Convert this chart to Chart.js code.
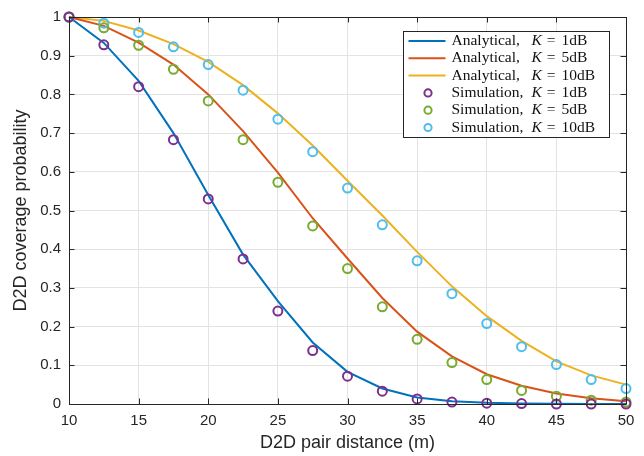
<!DOCTYPE html>
<html><head><meta charset="utf-8">
<script src="https://cdn.jsdelivr.net/npm/chart.js@4.4.1/dist/chart.umd.min.js"></script>
<style>html,body{margin:0;padding:0;background:#fff;}canvas{display:block;}</style>
</head><body>
<canvas id="c" width="644" height="456"></canvas>
<script>
// ---- data ----
const distances = [10, 12.5, 15, 17.5, 20, 22.5, 25, 27.5, 30, 32.5, 35, 37.5, 40, 42.5, 45, 47.5, 50];
const analyticalK1  = [1.0, 0.933, 0.835, 0.700, 0.540, 0.386, 0.266, 0.159, 0.083, 0.040, 0.017, 0.007, 0.003, 0.001, 0.0005, 0.0002, 0.0001];
const analyticalK5  = [1.0, 0.977, 0.934, 0.877, 0.800, 0.705, 0.598, 0.480, 0.376, 0.274, 0.187, 0.123, 0.077, 0.047, 0.027, 0.015, 0.007];
const analyticalK10 = [1.0, 0.990, 0.965, 0.930, 0.884, 0.824, 0.751, 0.668, 0.577, 0.487, 0.393, 0.304, 0.227, 0.163, 0.110, 0.074, 0.050];
const simulationK1  = [1.0, 0.928, 0.820, 0.683, 0.530, 0.375, 0.240, 0.138, 0.072, 0.033, 0.013, 0.005, 0.002, 0.001, 0.000, 0.000, 0.000];
const simulationK5  = [1.0, 0.972, 0.927, 0.865, 0.783, 0.683, 0.573, 0.460, 0.350, 0.251, 0.167, 0.107, 0.063, 0.035, 0.020, 0.010, 0.005];
const simulationK10 = [1.0, 0.984, 0.960, 0.923, 0.877, 0.811, 0.736, 0.652, 0.558, 0.463, 0.370, 0.285, 0.208, 0.148, 0.102, 0.063, 0.040];
const xTicks = [10, 15, 20, 25, 30, 35, 40, 45, 50];
const yTicks = [0, 0.1, 0.2, 0.3, 0.4, 0.5, 0.6, 0.7, 0.8, 0.9, 1];
const seriesLabels = ['Analytical, K = 1dB', 'Analytical, K = 5dB', 'Analytical, K = 10dB',
                      'Simulation, K = 1dB', 'Simulation, K = 5dB', 'Simulation, K = 10dB'];
const xTitle = 'D2D pair distance (m)';
const yTitle = 'D2D coverage probability';

const colors = ['#0072BD', '#D95319', '#EDB120', '#7E2F8E', '#77AC30', '#4DBEEE'];
const pts = arr => distances.map((d, i) => ({x: d, y: arr[i]}));

function lineDs(label, arr, color) {
  return {label, data: pts(arr), borderColor: color, backgroundColor: color, borderWidth: 2,
          pointRadius: 0, showLine: true, tension: 0, order: 2, clip: false, isLine: true};
}
function markDs(label, arr, color) {
  return {label, data: pts(arr), borderColor: color, backgroundColor: 'rgba(0,0,0,0)', borderWidth: 2,
          pointRadius: 4.5, pointStyle: 'circle', showLine: false, order: 1, clip: false, isLine: false};
}

const axisColor = '#262626';

const framePlugin = {
  id: 'frame',
  afterDraw(chart) {
    const ctx = chart.ctx, a = chart.chartArea;
    const xs = chart.scales.x, ys = chart.scales.y;
    ctx.save();
    ctx.strokeStyle = axisColor;
    ctx.lineWidth = 1;
    ctx.beginPath();
    ctx.rect(Math.round(a.left) + 0.5, Math.round(a.top) + 0.5, Math.round(a.right - a.left), Math.round(a.bottom - a.top));
    ctx.stroke();
    const tl = 5.5;
    ctx.beginPath();
    xTicks.forEach(v => {
      const px = Math.round(xs.getPixelForValue(v)) + 0.5;
      ctx.moveTo(px, a.bottom); ctx.lineTo(px, a.bottom - tl);
      ctx.moveTo(px, a.top); ctx.lineTo(px, a.top + tl);
    });
    yTicks.forEach(v => {
      const py = Math.round(ys.getPixelForValue(v)) + 0.5;
      ctx.moveTo(a.left, py); ctx.lineTo(a.left + tl, py);
      ctx.moveTo(a.right, py); ctx.lineTo(a.right - tl, py);
    });
    ctx.stroke();

    // legend
    const bw = 206, bh = 106;
    const bx = Math.round(a.right - 17 - bw) + 0.5, by = Math.round(a.top + 13.5) + 0.5;
    ctx.fillStyle = '#fff';
    ctx.fillRect(bx, by, bw, bh);
    ctx.strokeStyle = '#262626';
    ctx.lineWidth = 1;
    ctx.strokeRect(bx, by, bw, bh);
    const fontN = "15.5px 'Liberation Serif', 'Times New Roman', serif";
    const fontI = "italic 15.5px 'Liberation Serif', 'Times New Roman', serif";
    ctx.textBaseline = 'middle';
    ctx.textAlign = 'left';
    chart.data.datasets.forEach((ds, i) => {
      const cy = by + 9.5 + i * 17.3;
      const sx = bx + 5;
      if (ds.isLine) {
        ctx.strokeStyle = ds.borderColor; ctx.lineWidth = 2;
        ctx.beginPath(); ctx.moveTo(sx, cy); ctx.lineTo(sx + 37, cy); ctx.stroke();
      } else {
        ctx.strokeStyle = ds.borderColor; ctx.lineWidth = 2;
        ctx.beginPath(); ctx.arc(sx + 19.5, cy, 3.6, 0, Math.PI * 2); ctx.stroke();
      }
      const parts = ds.label.split(', K = ');
      const tx = bx + 48;
      ctx.fillStyle = '#111';
      ctx.font = fontN;
      ctx.fillText(parts[0] + ',', tx, cy);
      let x = tx + 80;
      ctx.font = fontI;
      ctx.fillText('K', x, cy);
      x += ctx.measureText('K').width + 5;
      ctx.font = fontN;
      ctx.fillText('=', x, cy);
      x += ctx.measureText('=').width + 6;
      ctx.fillText(parts[1], x, cy);
    });
    ctx.restore();
  }
};

Chart.defaults.font.family = "'Liberation Sans', Arial, Helvetica, sans-serif";
Chart.defaults.color = axisColor;

new Chart(document.getElementById('c'), {
  type: 'scatter',
  data: {
    datasets: [
      lineDs(seriesLabels[0], analyticalK1, colors[0]),
      lineDs(seriesLabels[1], analyticalK5, colors[1]),
      lineDs(seriesLabels[2], analyticalK10, colors[2]),
      markDs(seriesLabels[3], simulationK1, colors[3]),
      markDs(seriesLabels[4], simulationK5, colors[4]),
      markDs(seriesLabels[5], simulationK10, colors[5])
    ]
  },
  options: {
    responsive: false,
    animation: false,
    devicePixelRatio: 1,
    layout: {padding: {left: 0, top: 13.5, right: 18, bottom: 0}},
    plugins: {legend: {display: false}, tooltip: {enabled: false}},
    scales: {
      x: {
        type: 'linear', min: 10, max: 50,
        afterBuildTicks: s => { s.ticks = xTicks.map(v => ({value: v})); },
        afterFit: s => { s.height = 52; },
        grid: {color: '#e3e3e3', drawTicks: false, lineWidth: 1},
        border: {display: false},
        ticks: {padding: 8, font: {size: 15}, color: axisColor, maxRotation: 0},
        title: {display: true, text: xTitle, font: {size: 18}, color: axisColor, padding: {top: 0, bottom: 2}}
      },
      y: {
        type: 'linear', min: 0, max: 1,
        afterBuildTicks: s => { s.ticks = yTicks.map(v => ({value: v})); },
        afterFit: s => { s.width = 69; },
        grid: {color: '#e3e3e3', drawTicks: false, lineWidth: 1},
        border: {display: false},
        ticks: {padding: 8, font: {size: 15}, color: axisColor, callback: v => String(v)},
        title: {display: true, text: yTitle, font: {size: 18}, color: axisColor, padding: {top: 10, bottom: 0}}
      }
    }
  },
  plugins: [framePlugin]
});
</script>
</body></html>
